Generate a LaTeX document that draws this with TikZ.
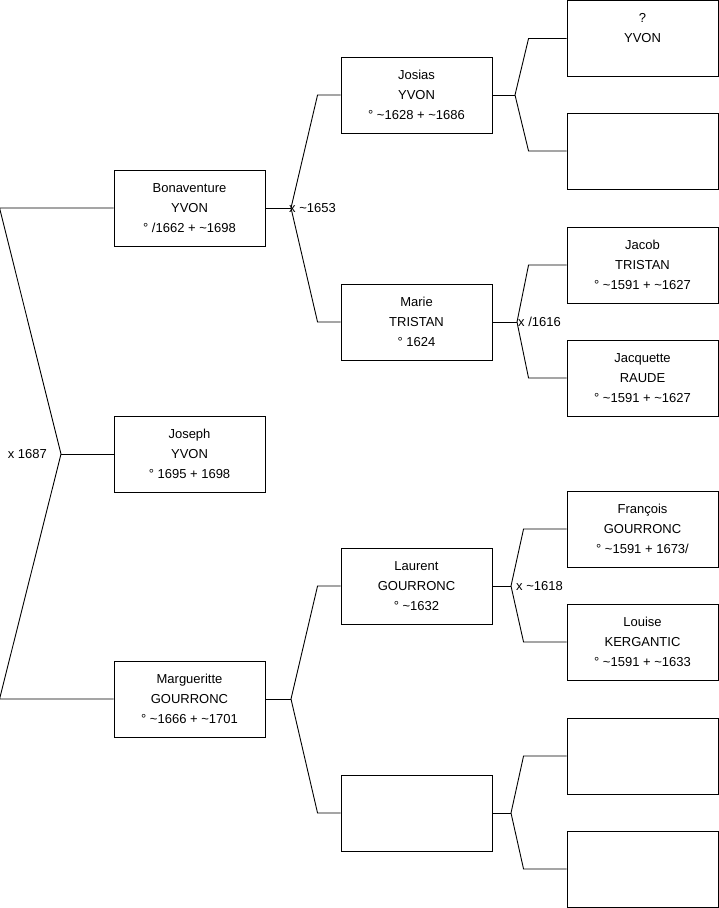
\documentclass[tikz,border=0pt]{standalone}
\usepackage{fontspec}
\setmainfont{Liberation Sans}
\usetikzlibrary{positioning}

\begin{document}
\begin{tikzpicture}[x=1pt,y=-1pt]
    \tikzset{
      person/.style={draw,line width=0.9pt,minimum width=151pt,minimum height=76pt,
                     inner sep=0pt,align=center,font=\fontsize{13}{20}\selectfont},
      link/.style={line width=0.9pt},
      union/.style={inner sep=0pt,font=\fontsize{13}{15}\selectfont}
    }
    \useasboundingbox (0,0) rectangle (719,908);
    % generation 1
    \node[person] (bona)   at (189.5,208) {Bonaventure\\YVON\\° /1662 + \textasciitilde1698};
    \node[person] (joseph) at (189.5,454) {Joseph\\YVON\\° 1695 + 1698};
    \node[person] (marg)   at (189.5,699) {Margueritte\\GOURRONC\\° \textasciitilde1666 + \textasciitilde1701};
    % generation 2
    \node[person] (josias)  at (416.5,95)  {Josias\\YVON\\° \textasciitilde1628 + \textasciitilde1686};
    \node[person] (marie)   at (416.5,322) {Marie\\TRISTAN\\° 1624};
    \node[person] (laurent) at (416.5,586) {Laurent\\GOURRONC\\° \textasciitilde1632};
    \node[person] (nobody)  at (416.5,813) {};
    % generation 3
    \node[person] (yvon)      at (642.5,38.5) {?\\YVON\\\phantom{0}};
    \node[person] (blankA)    at (642.5,151)  {};
    \node[person] (jacob)     at (642.5,265)  {Jacob\\TRISTAN\\° \textasciitilde1591 + \textasciitilde1627};
    \node[person] (jacquette) at (642.5,378)  {Jacquette\\RAUDE\\° \textasciitilde1591 + \textasciitilde1627};
    \node[person] (francois)  at (642.5,529)  {François\\GOURRONC\\° \textasciitilde1591 + 1673/};
    \node[person] (louise)    at (642.5,642)  {Louise\\KERGANTIC\\° \textasciitilde1591 + \textasciitilde1633};
    \node[person] (blankB)    at (642.5,756)  {};
    \node[person] (blankC)    at (642.5,869)  {};
    % junctions
    \coordinate (jRoot)    at (61,454);
    \coordinate (jBona)    at (291,208);
    \coordinate (jMarg)    at (291,699);
    \coordinate (jJosias)  at (515,95);
    \coordinate (jMarie)   at (517,322);
    \coordinate (jLaurent) at (511,586);
    \coordinate (jNobody)  at (511,813);
    % brackets
    \draw[link] (bona.west) -- ([xshift=-114pt]bona.west) -- (jRoot)
                -- ([xshift=-114pt]marg.west) -- (marg.west);
    \draw[link] (jRoot) -- (joseph.west);
    \foreach \kid/\j/\up/\down/\d in {bona/jBona/josias/marie/23,marg/jMarg/laurent/nobody/23,
        josias/jJosias/yvon/blankA/38,marie/jMarie/jacob/jacquette/38,
        laurent/jLaurent/francois/louise/43,nobody/jNobody/blankB/blankC/43}{
       \draw[link] (\kid.east) -- (\j);
       \draw[link] (\up.west) -- ([xshift=-\d pt]\up.west) -- (\j)
                   -- ([xshift=-\d pt]\down.west) -- (\down.west);
    }
    % marriage dates
    \node[union,anchor=east] (m1) at ([xshift=-14pt]jRoot)  {x 1687};
    \node[union,anchor=west] (m2) at ([xshift=-2pt]jBona)    {x \textasciitilde1653};
    \node[union,anchor=west] (m3) at ([xshift=1pt]jMarie)    {x /1616};
    \node[union,anchor=west] (m4) at ([xshift=5pt]jLaurent)  {x \textasciitilde1618};
\end{tikzpicture}
\end{document}
